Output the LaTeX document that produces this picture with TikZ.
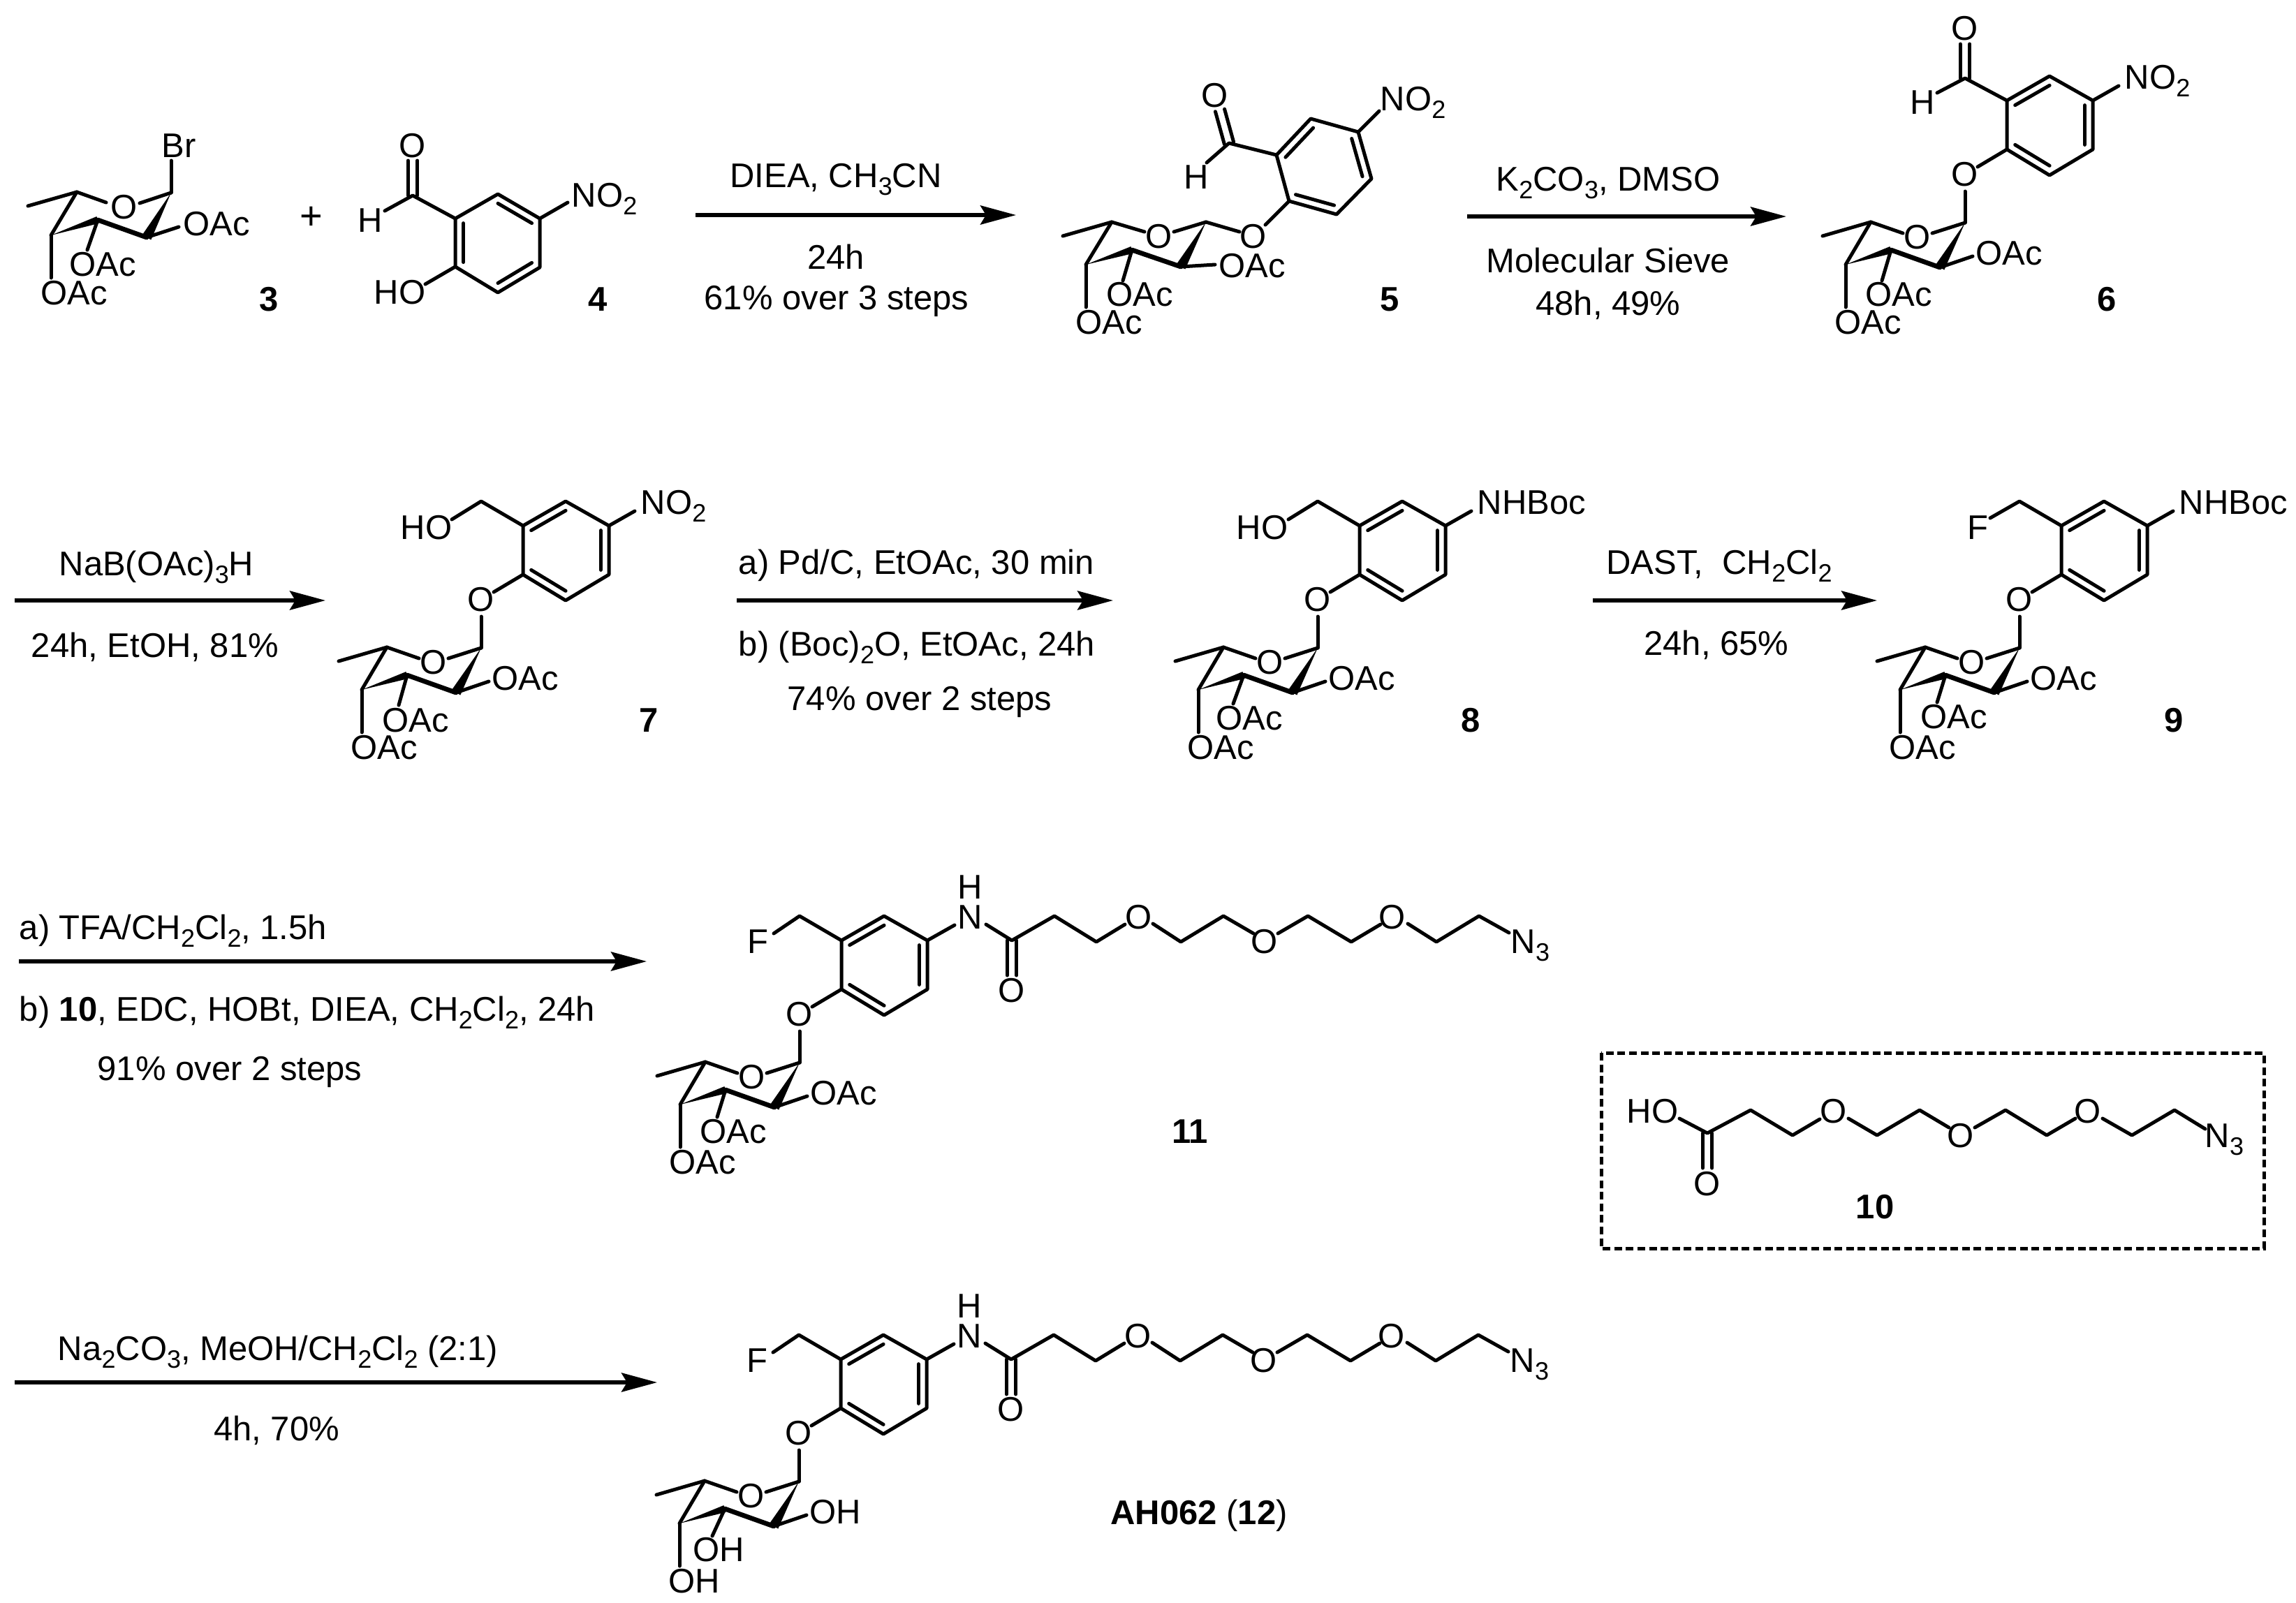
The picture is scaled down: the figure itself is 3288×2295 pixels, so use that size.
\documentclass[tikz,border=0pt]{standalone}
\usepackage{fontspec}
\setmainfont{Liberation Sans}
\usetikzlibrary{calc,arrows.meta}
\newcommand\ssub[1]{\raisebox{-2.8pt}{\fontsize{9pt}{9pt}\selectfont #1}}
\tikzset{
 bond/.style={draw=black,line width=1.25pt,line cap=round,line join=round},
 boldbond/.style={bond,line width=1.7pt},
 lbl/.style={inner sep=0pt,anchor=base west,font=\fontsize{12.25pt}{14pt}\selectfont},
 clbl/.style={inner sep=0pt,anchor=base,font=\fontsize{12.25pt}{14pt}\selectfont},
 cpd/.style={clbl,font=\fontsize{12.25pt}{14pt}\selectfont\bfseries},
 rxn/.style={draw=black,line width=1.3pt,-{Stealth[length=12.75pt,width=6.8pt,inset=2pt]}},
 dashbox/.style={draw=black,line width=1.25pt,dash pattern=on 2.75pt off 1.4pt},
}
\newcommand\wedgeb[3]{\fill[black] (#1) -- ($(#2)!#3!90:(#1)$) -- ($(#2)!#3!-90:(#1)$) -- cycle;}
\newcommand\dblb[2]{\draw[bond] ($(#1)!1.7pt!90:(#2)$) -- ($(#2)!1.7pt!-90:(#1)$);\draw[bond] ($(#1)!1.7pt!-90:(#2)$) -- ($(#2)!1.7pt!90:(#1)$);}
\newcommand\innerb[3]{\draw[bond] ($(#1)!.19!(#3)$) -- ($(#2)!.19!(#3)$);}
% sugar ring bonds, given coordinates me,c5,oa,ob,c1,c2,c3,c4 and ends e2,e3,e4
\newcommand\sugarbonds{%
 \draw[bond] (me) -- (c5) -- (oa);
 \draw[bond] (ob) -- (c1);
 \draw[bond] (c5) -- (c4);
 \wedgeb{c1}{c2}{1.8pt}
 \draw[boldbond] (c3) -- (c2);
 \wedgeb{c4}{c3}{1.3pt}
 \draw[bond] (c2) -- (e2);
 \draw[bond] (c3) -- (e3);
 \draw[bond] (c4) -- (e4);
}
% #1 text, #2 x of 3-group, #3 baseline of 3-group, #4,#5 end of its bond
\newcommand\sugarframe[5]{%
 \coordinate (c1) at (0,0);
 \coordinate (me) at (-204,19);
 \coordinate (c5) at (-135,-1);
 \coordinate (oa) at (-89,15);
 \coordinate (ob) at (-47,15);
 \coordinate (c2) at (-36,64);
 \coordinate (c3) at (-106,39);
 \coordinate (c4) at (-171,60);
 \coordinate (e2) at (11,48);
 \coordinate (e3) at (#4,#5);
 \coordinate (e4) at (-171,121);
 \node[clbl] (oring) at (-68,37) {O};
 \node[lbl] (s2) at (15,60) {#1};
 \node[lbl] (s3) at (#2,#3) {#1};
 \node[lbl] (s4) at (-187,159) {#1};
 \sugarbonds
 \coordinate (r1) at (60,-175);
 \coordinate (r2) at (121,-210);
 \coordinate (r3) at (183,-175);
 \coordinate (r4) at (183,-105);
 \coordinate (r5) at (121,-68);
 \coordinate (r6) at (60,-105);
 \coordinate (rc) at (121.5,-140);
 \coordinate (gt) at (0,-45);
 \coordinate (gl) at (18,-80);
 \node[clbl] (olink) at (0,-53) {O};
 \draw[bond] (c1) -- (gt);
 \draw[bond] (r6) -- (gl);
 \draw[bond] (r1) -- (r2) -- (r3) -- (r4) -- (r5) -- (r6) -- cycle;
 \innerb{r1}{r2}{rc}
 \innerb{r3}{r4}{rc}
 \innerb{r5}{r6}{rc}
}
% benzylic CH2-X and para substituent
\newcommand\benzyl[3]{%
 \coordinate (bz) at (0,-210);
 \coordinate (bx) at (#1,#2);
 \draw[bond] (r1) -- (bz) -- (bx);
 #3
}
\newcommand\para[1]{%
 \coordinate (pe) at (220,-196);
 \draw[bond] (r3) -- (pe);
 \node[lbl] (pg) at (228,-192) {#1};
}
\newcommand\pegchain{%
 \coordinate (ne) at (222,-197);
 \coordinate (ns) at (267,-198);
 \coordinate (cc) at (304,-175);
 \coordinate (ce) at (304,-125);
 \node[clbl] (nn) at (244,-192) {N};
 \node[clbl] (nh) at (244,-235) {H};
 \node[clbl] (oc) at (304,-87) {O};
 \draw[bond] (r3) -- (ne);
 \dblb{cc}{ce}
 \coordinate (k1) at (365,-210);\coordinate (k2) at (425,-173);\coordinate (k3) at (466,-198);
 \coordinate (k4) at (506,-199);\coordinate (k5) at (546,-173);\coordinate (k6) at (607,-210);\coordinate (k7) at (650,-185);
 \coordinate (k8) at (685,-185);\coordinate (k9) at (728,-210);\coordinate (k10) at (790,-173);\coordinate (k11) at (832,-198);
 \coordinate (k12) at (871,-199);\coordinate (k13) at (912,-173);\coordinate (k14) at (973,-210);\coordinate (k15) at (1016,-186);
 \draw[bond] (ns) -- (cc) -- (k1) -- (k2) -- (k3);
 \draw[bond] (k4) -- (k5) -- (k6) -- (k7);
 \draw[bond] (k8) -- (k9) -- (k10) -- (k11);
 \draw[bond] (k12) -- (k13) -- (k14) -- (k15);
 \node[clbl] (o1) at (486,-192) {O};
 \node[clbl] (o2) at (666,-157) {O};
 \node[clbl] (o3) at (849,-192) {O};
 \node[lbl] (n3) at (1018,-157) {N\ssub{3}};
}
\begin{document}
\begin{tikzpicture}[x=0.25pt,y=-0.25pt]
\useasboundingbox (0,0) rectangle (3288,2295);
\fill[white] (0,0) rectangle (3288,2295);

% ---------- compound 3
\begin{scope}[name prefix=m3-]
 \coordinate (me) at (40,295);\coordinate (c5) at (110,275);\coordinate (oa) at (152,290);\coordinate (ob) at (200,291);
 \coordinate (c1) at (245,276);\coordinate (c2) at (210,340);\coordinate (c3) at (140,315);\coordinate (c4) at (73,337);
 \coordinate (e2) at (256,325);\coordinate (e3) at (125,358);\coordinate (e4) at (73,398);\coordinate (ebr) at (245,230);
 \node[clbl] (oring) at (178,313) {O};
 \node[lbl] (br) at (231,225) {Br};
 \node[lbl] (s2) at (262,337) {OAc};
 \node[lbl] (s3) at (99,395) {OAc};
 \node[lbl] (s4) at (58,436) {OAc};
 \sugarbonds
 \draw[bond] (c1) -- (ebr);
 \node[cpd] (lab) at (385,445) {3};
\end{scope}
\node[clbl,font=\fontsize{14pt}{14pt}\selectfont] (plus) at (446,328) {+};
% ---------- compound 4
\begin{scope}[name prefix=m4-]
 \coordinate (r1) at (652,313);\coordinate (r2) at (713,278);\coordinate (r3) at (773,313);
 \coordinate (r4) at (773,383);\coordinate (r5) at (713,419);\coordinate (r6) at (652,382);\coordinate (rc) at (713,348);
 \coordinate (cho) at (591,280);\coordinate (doe) at (591,230);\coordinate (he) at (551,302);
 \coordinate (oe) at (609,407);\coordinate (ne) at (813,290);
 \draw[bond] (r1) -- (r2) -- (r3) -- (r4) -- (r5) -- (r6) -- cycle;
 \innerb{r6}{r1}{rc}\innerb{r2}{r3}{rc}\innerb{r4}{r5}{rc}
 \draw[bond] (r1) -- (cho) -- (he);
 \dblb{cho}{doe}
 \draw[bond] (r6) -- (oe);
 \draw[bond] (r3) -- (ne);
 \node[clbl] (o) at (591,225) {O};
 \node[lbl] (h) at (512,332) {H};
 \node[lbl] (ho) at (535,435) {HO};
 \node[lbl] (no) at (818,296) {NO\ssub{2}};
 \node[cpd] (lab) at (856,445) {4};
\end{scope}
% ---------- compound 5
\begin{scope}[name prefix=m5-]
 \coordinate (me) at (1522,338);\coordinate (c5) at (1592,318);\coordinate (oa) at (1639,332);\coordinate (ob) at (1681,332);
 \coordinate (c1) at (1727,318);\coordinate (c2) at (1691,382);\coordinate (c3) at (1621,358);\coordinate (c4) at (1555,379);
 \coordinate (e2) at (1740,379);\coordinate (e3) at (1608,402);\coordinate (e4) at (1555,440);
 \node[clbl] (oring) at (1660,355) {O};
 \node[lbl] (s2) at (1745,397) {OAc};
 \node[lbl] (s3) at (1584,438) {OAc};
 \node[lbl] (s4) at (1540,478) {OAc};
 \sugarbonds
 \coordinate (r1) at (1828,222);\coordinate (r2) at (1877,170);\coordinate (r3) at (1945,189);
 \coordinate (r4) at (1964,256);\coordinate (r5) at (1914,307);\coordinate (r6) at (1846,288);\coordinate (rc) at (1896,239);
 \coordinate (gt) at (1775,332);\coordinate (gl) at (1812,322);
 \coordinate (cho) at (1760,205);\coordinate (doe) at (1747,158);\coordinate (he) at (1728,233);\coordinate (ne) at (1975,159);
 \draw[bond] (r1) -- (r2) -- (r3) -- (r4) -- (r5) -- (r6) -- cycle;
 \innerb{r1}{r2}{rc}\innerb{r3}{r4}{rc}\innerb{r5}{r6}{rc}
 \draw[bond] (c1) -- (gt);
 \draw[bond] (r6) -- (gl);
 \draw[bond] (r1) -- (cho) -- (he);
 \dblb{cho}{doe}
 \draw[bond] (r3) -- (ne);
 \node[clbl] (olink) at (1795,355) {O};
 \node[clbl] (o) at (1740,153) {O};
 \node[lbl] (h) at (1695,270) {H};
 \node[lbl] (no) at (1976,158) {NO\ssub{2}};
 \node[cpd] (lab) at (1990,445) {5};
\end{scope}
% ---------- compound 6
\begin{scope}[shift={(2814,319)},name prefix=m6-]
 \sugarframe{OAc}{-143}{119}{-119}{83}
 \coordinate (cho) at (0,-207);\coordinate (doe) at (0,-256);\coordinate (he) at (-40,-186);
 \draw[bond] (r1) -- (cho) -- (he);
 \dblb{cho}{doe}
 \node[clbl] (o) at (0,-262) {O};
 \node[clbl] (h) at (-61,-156) {H};
 \para{NO\ssub{2}}
 \node[cpd] (lab) at (203,126) {6};
\end{scope}
% ---------- compound 7
\begin{scope}[shift={(689,928)},name prefix=m7-]
 \sugarframe{OAc}{-142}{120}{-118}{82}
 \benzyl{-42}{-184}{\node[lbl] (x) at (-116,-156) {HO};}
 \para{NO\ssub{2}}
 \node[cpd] (lab) at (240,120) {7};
\end{scope}
% ---------- compound 8
\begin{scope}[shift={(1887,928)},name prefix=m8-]
 \sugarframe{OAc}{-146}{117}{-121}{80}
 \benzyl{-42}{-184}{\node[lbl] (x) at (-117,-156) {HO};}
 \para{NHBoc}
 \node[cpd] (lab) at (219,120) {8};
\end{scope}
% ---------- compound 9
\begin{scope}[shift={(2892,928)},name prefix=m9-]
 \sugarframe{OAc}{-142}{115}{-118}{78}
 \benzyl{-42}{-186}{\node[lbl] (x) at (-75,-156) {F};}
 \para{NHBoc}
 \node[cpd] (lab) at (221,120) {9};
\end{scope}
% ---------- compound 11
\begin{scope}[shift={(1145,1522)},name prefix=m11-]
 \sugarframe{OAc}{-143}{115}{-118}{78}
 \benzyl{-37}{-185}{\node[lbl] (x) at (-75,-157) {F};}
 \pegchain
 \node[cpd] (lab) at (559,115) {11};
\end{scope}
% ---------- compound 12
\begin{scope}[shift={(1144,2122)},name prefix=m12-]
 \sugarframe{OH}{-152}{114}{-124}{78}
 \benzyl{-37}{-185}{\node[lbl] (x) at (-75,-157) {F};}
 \pegchain
 \node[clbl] (lab) at (573,61) {\textbf{AH062} (\textbf{12})};
\end{scope}
% ---------- compound 10 in dashed box
\begin{scope}[name prefix=m10-]
 \coordinate (bxa) at (2293,1508);\coordinate (bxb) at (3242,1788);
 \draw[dashbox] (bxa) rectangle (bxb);
 \coordinate (he) at (2405,1602);\coordinate (cc) at (2445,1623);\coordinate (ce) at (2445,1673);
 \coordinate (k1) at (2507,1590);\coordinate (k2) at (2567,1626);\coordinate (k3) at (2606,1603);
 \coordinate (k4) at (2647,1602);\coordinate (k5) at (2688,1626);\coordinate (k6) at (2749,1590);\coordinate (k7) at (2791,1615);
 \coordinate (k8) at (2828,1615);\coordinate (k9) at (2872,1590);\coordinate (k10) at (2931,1626);\coordinate (k11) at (2972,1602);
 \coordinate (k12) at (3011,1602);\coordinate (k13) at (3053,1626);\coordinate (k14) at (3114,1590);\coordinate (k15) at (3158,1617);
 \draw[bond] (he) -- (cc) -- (k1) -- (k2) -- (k3);
 \dblb{cc}{ce}
 \draw[bond] (k4) -- (k5) -- (k6) -- (k7);
 \draw[bond] (k8) -- (k9) -- (k10) -- (k11);
 \draw[bond] (k12) -- (k13) -- (k14) -- (k15);
 \node[lbl] (ho) at (2329,1608) {HO};
 \node[clbl] (oc) at (2445,1712) {O};
 \node[clbl] (o1) at (2626,1608) {O};
 \node[clbl] (o2) at (2808,1643) {O};
 \node[clbl] (o3) at (2990,1608) {O};
 \node[lbl] (n3) at (3157,1643) {N\ssub{3}};
 \node[cpd] (lab) at (2685,1745) {10};
\end{scope}
% ---------- arrows
\coordinate (a1s) at (996,308);\coordinate (a1e) at (1455,308);
\coordinate (a2s) at (2101,310);\coordinate (a2e) at (2558,310);
\coordinate (a3s) at (21,860);\coordinate (a3e) at (466,860);
\coordinate (a4s) at (1055,860);\coordinate (a4e) at (1594,860);
\coordinate (a5s) at (2281,860);\coordinate (a5e) at (2688,860);
\coordinate (a6s) at (27,1377);\coordinate (a6e) at (926,1377);
\coordinate (a7s) at (21,1980);\coordinate (a7e) at (941,1980);
\foreach \k in {1,...,7}{\draw[rxn] (a\k s) -- (a\k e);}
% ---------- reaction conditions
\node[clbl] (t1a) at (1197,268) {DIEA, CH\ssub{3}CN};
\node[clbl] (t1b) at (1197,385) {24h};
\node[clbl] (t1c) at (1198,443) {61\% over 3 steps};
\node[clbl] (t2a) at (2303,273) {K\ssub{2}CO\ssub{3}, DMSO};
\node[clbl] (t2b) at (2303,390) {Molecular Sieve};
\node[clbl] (t2c) at (2303,451) {48h, 49\%};
\node[clbl] (t3a) at (224,824) {NaB(OAc)\ssub{3}H};
\node[clbl] (t3b) at (222,941) {24h, EtOH, 81\%};
\node[lbl] (t4a) at (1057,822) {a) Pd/C, EtOAc, 30 min};
\node[lbl] (t4b) at (1057,939) {b) (Boc)\ssub{2}O, EtOAc, 24h};
\node[clbl] (t4c) at (1317,1017) {74\% over 2 steps};
\node[clbl] (t5a) at (2462,822) {DAST,\ \ CH\ssub{2}Cl\ssub{2}};
\node[clbl] (t5b) at (2458,938) {24h, 65\%};
\node[lbl] (t6a) at (27,1345) {a) TFA/CH\ssub{2}Cl\ssub{2}, 1.5h};
\node[lbl] (t6b) at (27,1462) {b) \textbf{10}, EDC, HOBt, DIEA, CH\ssub{2}Cl\ssub{2}, 24h};
\node[clbl] (t6c) at (329,1547) {91\% over 2 steps};
\node[clbl] (t7a) at (398,1948) {Na\ssub{2}CO\ssub{3}, MeOH/CH\ssub{2}Cl\ssub{2} (2:1)};
\node[clbl] (t7b) at (396,2063) {4h, 70\%};
\end{tikzpicture}
\end{document}
